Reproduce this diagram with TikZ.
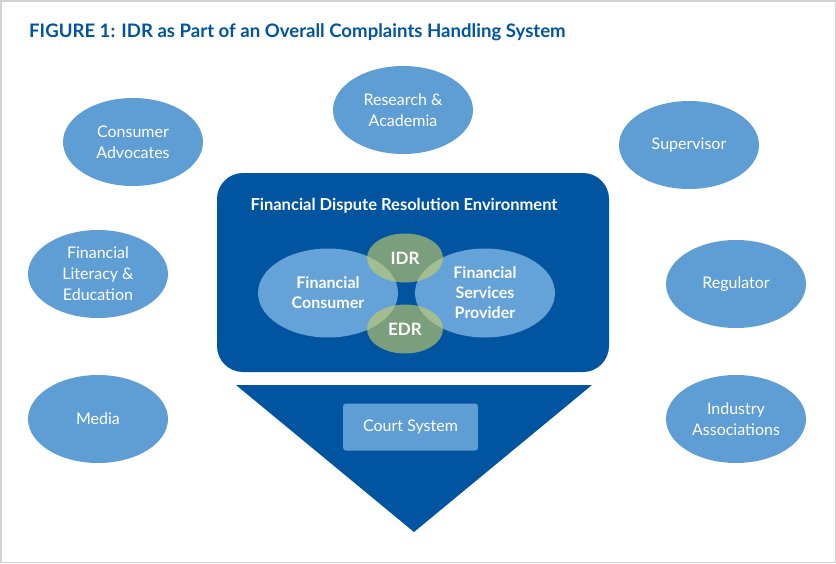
\documentclass[tikz,border=0pt]{standalone}
\usepackage{fontspec}
\setmainfont{Lato}
\usetikzlibrary{shapes.geometric}
\definecolor{darkblue}{RGB}{0,84,160}
\definecolor{lightblue}{RGB}{95,158,213}
\definecolor{innerblue}{RGB}{100,162,216}
\definecolor{idrgreen}{RGB}{200,206,103}
\definecolor{framegray}{RGB}{210,210,210}
\tikzset{
  outer/.style={ellipse, fill=lightblue, minimum width=140pt, minimum height=88pt, inner sep=0pt,
    text=white, align=center, font=\fontsize{16}{21}\selectfont},
  inner/.style={ellipse, fill=innerblue, minimum width=140pt, minimum height=89pt,
    inner sep=0pt, text=white, align=center, font=\bfseries\fontsize{16}{20}\selectfont},
  drbox/.style={ellipse, fill=idrgreen, fill opacity=0.62, text opacity=1, minimum width=76pt, minimum height=49pt,
    inner sep=0pt, text=white, font=\bfseries\fontsize{17}{20}\selectfont},
}
\begin{document}
\begin{tikzpicture}[x=1pt,y=-1pt]
\useasboundingbox (0,0) rectangle (836,563);
\draw[framegray, line width=1.5pt] (0.75,0.75) rectangle (835.25,562.25);
\node[anchor=west, text=darkblue, font=\bfseries\fontsize{18.6}{22}\selectfont, inner sep=0pt] (title) at (29,32) {FIGURE 1: IDR as Part of an Overall Complaints Handling System};
% environment
\fill[darkblue, rounded corners=26pt] (217,173) rectangle (609,372);
\node[text=white, font=\bfseries\fontsize{16.5}{19}\selectfont, inner sep=0pt] (env) at (404,206) {Financial Dispute Resolution Environment};
\fill[darkblue] (236,385) -- (592,385) -- (414,532) -- cycle;
\node[fill=lightblue, rounded corners=3pt, minimum width=135pt, minimum height=47pt, text=white, font=\fontsize{16}{19}\selectfont] (court) at (410.5,427) {Court System};
% inner ellipses
\node[inner] (fc) at (328,293) {Financial\\Consumer};
\node[inner] (fsp) at (485,293) {Financial\\Services\\Provider};
\node[drbox] (idr) at (405,258) {IDR};
\node[drbox] (edr) at (405,329) {EDR};
% outer ellipses
\node[outer] (ca) at (133,142) {Consumer\\Advocates};
\node[outer] (ra) at (403,110) {Research \&\\Academia};
\node[outer] (sup) at (689,145) {Supervisor};
\node[outer] (fle) at (98,274) {Financial\\Literacy \&\\Education};
\node[outer] (reg) at (736,284) {Regulator};
\node[outer] (med) at (98,419) {Media};
\node[outer] (ia) at (736,419) {Industry\\Associations};
\end{tikzpicture}
\end{document}
